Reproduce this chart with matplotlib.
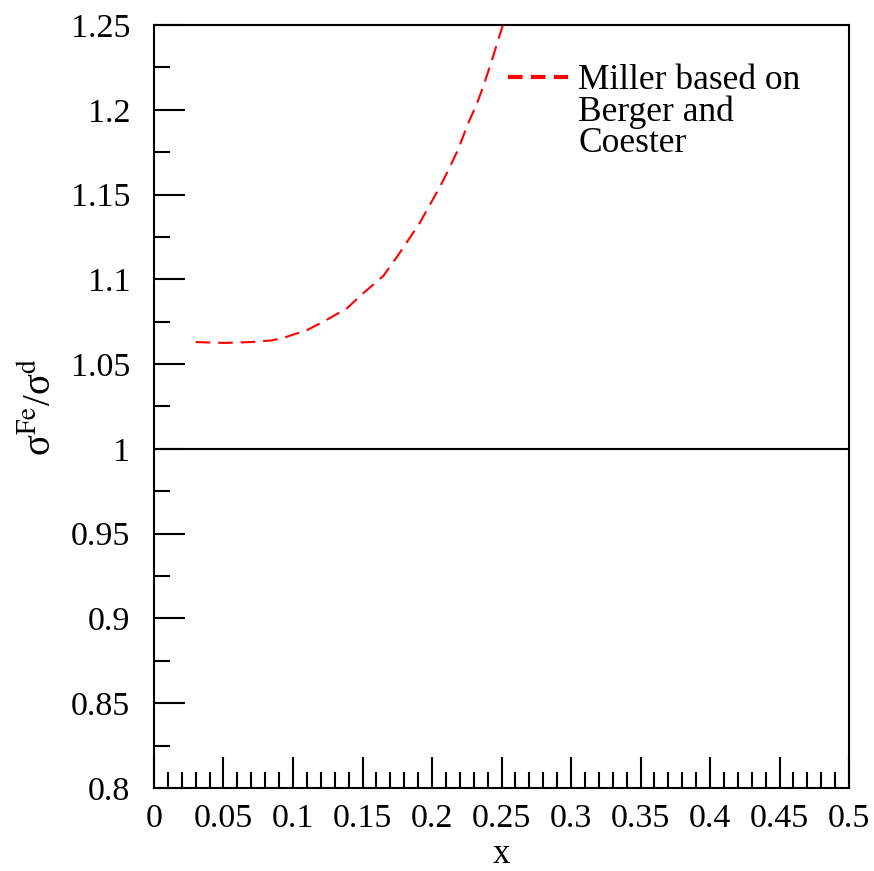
import matplotlib
matplotlib.use("Agg")
import matplotlib.pyplot as plt
from matplotlib.lines import Line2D
from matplotlib.ticker import MultipleLocator

plt.rcParams['font.family'] = ['Liberation Serif', 'DejaVu Serif']
plt.rcParams['mathtext.fontset'] = 'stix'

# Miller based on Berger and Coester curve
x_miller = [0.03, 0.05, 0.07, 0.085, 0.095, 0.11, 0.124, 0.139, 0.148, 0.165,
            0.175, 0.191, 0.206, 0.213, 0.219, 0.226, 0.232, 0.237, 0.243, 0.251]
y_miller = [1.063, 1.0625, 1.063, 1.064, 1.066, 1.070, 1.076, 1.083, 1.090, 1.102,
            1.1135, 1.133, 1.155, 1.1665, 1.177, 1.192, 1.203, 1.214, 1.229, 1.25]

x_ticks = [0, 0.05, 0.1, 0.15, 0.2, 0.25, 0.3, 0.35, 0.4, 0.45, 0.5]
x_ticklabels = ["0", "0.05", "0.1", "0.15", "0.2", "0.25", "0.3", "0.35", "0.4", "0.45", "0.5"]
y_ticks = [0.8, 0.85, 0.9, 0.95, 1.0, 1.05, 1.1, 1.15, 1.2, 1.25]
y_ticklabels = ["0.8", "0.85", "0.9", "0.95", "1", "1.05", "1.1", "1.15", "1.2", "1.25"]
legend_lines = ["Miller based on", "Berger and", "Coester"]

fig = plt.figure(figsize=(8.74, 8.71), dpi=100)
ax = fig.add_axes([0.1762, 0.0953, 0.7952, 0.876])

ax.axhline(1.0, color="black", lw=1.5)
ax.plot(x_miller, y_miller, color="red", lw=1.5, dashes=(7.0, 3.8))

ax.set_xlim(0, 0.5)
ax.set_ylim(0.8, 1.25)
ax.set_xticks(x_ticks)
ax.set_xticklabels(x_ticklabels)
ax.set_yticks(y_ticks)
ax.set_yticklabels(y_ticklabels)
ax.xaxis.set_minor_locator(MultipleLocator(0.01))
ax.yaxis.set_minor_locator(MultipleLocator(0.025))
ax.tick_params(which="both", direction="in", top=False, right=False, width=1.5)
ax.tick_params(which="major", length=22, labelsize=24.5)
ax.tick_params(axis="x", which="major", pad=11)
ax.tick_params(axis="y", which="major", pad=17)
ax.tick_params(which="minor", length=11.5)
for s in ax.spines.values():
    s.set_linewidth(1.5)

ax.set_xlabel("x", fontsize=25, labelpad=3)
ax.set_ylabel("σ$^{\\mathrm{Fe}}$/σ$^{\\mathrm{d}}$", fontsize=28, labelpad=8)

# legend: the label wraps over three rows, handle only on the first
handle = Line2D([], [], color="red", lw=3, dashes=(3.5, 2.0))
blank = Line2D([], [], color="none")
ax.legend([handle, blank, blank], legend_lines, loc="upper left",
          bbox_to_anchor=(0.509, 0.949), frameon=False, fontsize=25.5,
          handlelength=1.7, handletextpad=0.29, borderaxespad=0, borderpad=0,
          labelspacing=-0.05)

fig.savefig("out.png", dpi=100)
